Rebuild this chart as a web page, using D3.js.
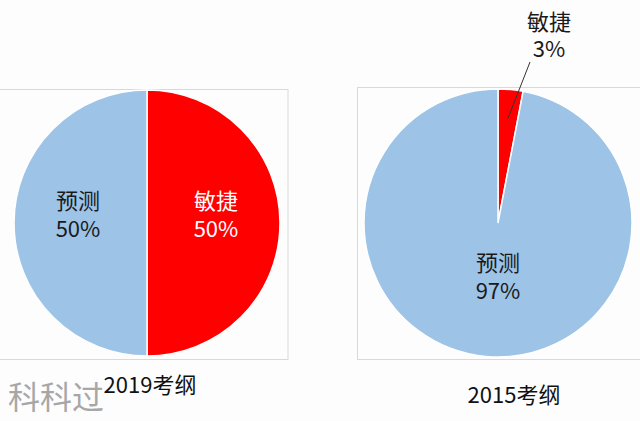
<!DOCTYPE html><html><head><meta charset="utf-8">
<script src="https://cdn.jsdelivr.net/npm/d3@7"></script>
<style>body{margin:0;background:#fdfdfe}</style></head><body>
<svg id="c" width="640" height="421"></svg>
<script>
const categories = ["敏捷","预测"];
const values2019 = [50,50];
const values2015 = [3,97];
const titles = ["2019考纲","2015考纲"];
const colors = {"敏捷":"#ff0000","预测":"#9dc3e6"};
const font = "'Noto Sans CJK SC', sans-serif";
const svg = d3.select("#c");
svg.append("rect").attr("x",-1).attr("y",89.5).attr("width",289).attr("height",270).attr("fill","none").attr("stroke","#d9d9d9");
svg.append("rect").attr("x",357.5).attr("y",87.5).attr("width",290).attr("height",272).attr("fill","none").attr("stroke","#d9d9d9");
const pie = d3.pie().sort(null).value(d=>d.v);
function label(x,y,txt,fill){
  svg.append("text").attr("x",x).attr("y",y).attr("text-anchor","middle")
    .attr("font-family",font).attr("font-size",22).attr("fill",fill).text(txt);
}
function draw(vals, cx, cy, r){
  const data = pie(categories.map((c,i)=>({c, v:vals[i]})));
  const g = svg.append("g").attr("transform",`translate(${cx},${cy})`);
  const arc = d3.arc().innerRadius(0).outerRadius(r);
  g.selectAll("path").data(data).join("path").attr("d",arc)
    .attr("fill",d=>colors[d.data.c]).attr("stroke","#fff").attr("stroke-width",1.5);
  return data;
}
const a = draw(values2019,147,223,133);
const la = d3.arc().innerRadius(69).outerRadius(69);
a.forEach(d=>{
  const [x,y] = la.centroid(d);
  const f = d.data.c==="敏捷"?"#fff":"#1a1a1a";
  label(147+x, 223+y-14, d.data.c, f);
  label(147+x, 223+y+14, d.data.v+"%", f);
});
const b = draw(values2015,498,223,134);
const dP = b[1];
label(498, 271, dP.data.c, "#1a1a1a");
label(498, 299, dP.data.v+"%", "#1a1a1a");
const dA = b[0];
const mid = (dA.startAngle+dA.endAngle)/2;
svg.append("line").attr("x1",498+Math.sin(mid)*105).attr("y1",223-Math.cos(mid)*105).attr("x2",530).attr("y2",62)
  .attr("stroke","#333").attr("stroke-width",1);
label(549, 30, dA.data.c, "#1a1a1a");
label(549, 57, dA.data.v+"%", "#1a1a1a");
svg.append("text").attr("x",150).attr("y",393).attr("text-anchor","middle").attr("font-family",font).attr("font-size",22).attr("fill","#111").text(titles[0]);
svg.append("text").attr("x",514).attr("y",403).attr("text-anchor","middle").attr("font-family",font).attr("font-size",22).attr("fill","#111").text(titles[1]);
svg.append("text").attr("x",8).attr("y",409).attr("font-family",font).attr("font-size",32).attr("fill","#999").attr("opacity",0.85).text("科科过");
</script></body></html>
